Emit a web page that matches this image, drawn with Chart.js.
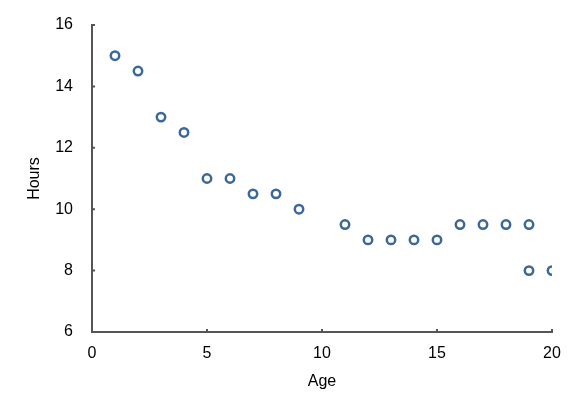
<!DOCTYPE html>
<html lang="en">
<head>
  <meta charset="UTF-8" />
  <title>Hours by Age</title>
  <script src="https://cdn.jsdelivr.net/npm/chart.js"></script>
  <style>
    body { margin: 0; background: #fff; }
    .chart-container { position: relative; width: 578px; height: 398px; }
  </style>
</head>
<body>
  <div class="chart-container">
    <canvas id="ageChart"></canvas>
  </div>
  <script>
    const ages  = [1, 2, 3, 4, 5, 6, 7, 8, 9, 11, 12, 13, 14, 15, 16, 17, 18, 19, 19, 20];
    const hours = [15, 14.5, 13, 12.5, 11, 11, 10.5, 10.5, 10, 9.5, 9, 9, 9, 9, 9.5, 9.5, 9.5, 9.5, 8, 8];
    const xTicks = [0, 5, 10, 15, 20];
    const yTicks = [6, 8, 10, 12, 14, 16];

    const axisColor = '#555555';
    const pointColor = '#3b6899';

    // small inward tick marks, like the original
    const innerTicks = {
      id: 'innerTicks',
      afterDraw(chart) {
        const { ctx, scales: { x, y } } = chart;
        ctx.save();
        ctx.strokeStyle = axisColor;
        ctx.lineWidth = 2;
        ctx.beginPath();
        xTicks.forEach(v => {
          const px = x.getPixelForValue(v);
          ctx.moveTo(px, y.bottom);
          ctx.lineTo(px, y.bottom - 3);
        });
        yTicks.forEach(v => {
          const py = y.getPixelForValue(v);
          ctx.moveTo(x.left, py);
          ctx.lineTo(x.left + 3, py);
        });
        ctx.stroke();
        ctx.restore();
      }
    };

    const ctx = document.getElementById('ageChart').getContext('2d');
    new Chart(ctx, {
      type: 'scatter',
      data: {
        datasets: [{
          data: ages.map((a, i) => ({ x: a, y: hours[i] })),
          backgroundColor: 'rgba(0,0,0,0)',
          borderColor: pointColor,
          borderWidth: 2.5,
          pointRadius: 4.2,
          pointHoverRadius: 4.2
        }]
      },
      options: {
        responsive: true,
        maintainAspectRatio: false,
        animation: false,
        layout: { padding: { left: 0, top: 25, right: 26, bottom: 0 } },
        plugins: { legend: { display: false }, tooltip: { enabled: false } },
        scales: {
          x: {
            type: 'linear',
            min: 0, max: 20,
            afterBuildTicks: s => { s.ticks = xTicks.map(v => ({ value: v })); },
            afterFit: s => { s.height = 66; s.paddingLeft = 0; s.paddingRight = 0; },
            grid: { display: false, drawTicks: false },
            border: { display: true, color: axisColor, width: 2 },
            ticks: { color: '#000', padding: 12, font: { family: 'Liberation Sans', size: 16 } },
            title: { display: true, text: 'Age', color: '#000', padding: { top: 0, bottom: 7 },
                     font: { family: 'Liberation Sans', size: 16 } }
          },
          y: {
            type: 'linear',
            min: 6, max: 16,
            afterBuildTicks: s => { s.ticks = yTicks.map(v => ({ value: v })); },
            afterFit: s => { s.width = 92; s.paddingTop = 0; s.paddingBottom = 0; },
            grid: { display: false, drawTicks: false },
            border: { display: true, color: axisColor, width: 2 },
            ticks: { color: '#000', padding: 19, font: { family: 'Liberation Sans', size: 16 } },
            title: { display: true, text: 'Hours', color: '#000', padding: { top: 25, bottom: 0 },
                     font: { family: 'Liberation Sans', size: 16 } }
          }
        }
      },
      plugins: [innerTicks]
    });
  </script>
</body>
</html>
